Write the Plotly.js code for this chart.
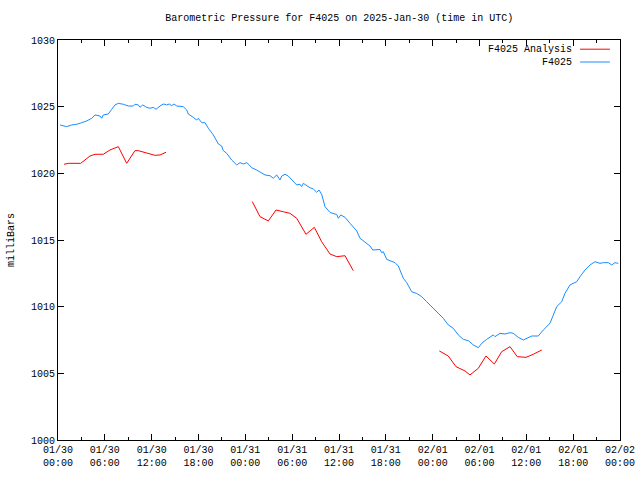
<!DOCTYPE html>
<html>
<head>
<meta charset="utf-8">
<script src="https://cdn.plot.ly/plotly-3.0.1.min.js"></script>
<style>html,body{margin:0;padding:0;background:#fff;}#chart{width:640px;height:480px;}</style>
</head>
<body>
<div id="chart"></div>
<script>
// Hours since 2025-01-30 00:00 UTC and pressure (mb)
const stationHours = [0.26,1.11,1.76,2.40,3.04,3.68,4.32,4.74,5.38,5.60,5.80,6.44,6.88,7.30,7.73,8.37,9.01,9.65,9.86,10.29,10.51,10.85,11.36,11.79,12.21,12.56,13.07,13.49,13.93,14.26,14.57,14.86,15.21,16.05,16.49,16.69,17.33,17.77,17.97,18.41,18.83,19.26,19.90,20.54,20.97,21.18,21.61,22.25,22.89,23.32,23.74,24.18,24.51,24.82,25.46,25.88,26.52,27.16,27.58,28.02,28.44,28.66,29.08,29.50,29.94,30.58,31.00,31.22,31.43,31.86,32.28,32.71,33.14,33.44,33.78,34.21,34.85,35.71,35.92,36.23,36.77,37.41,38.27,38.69,39.55,39.97,40.32,40.83,41.25,41.47,41.68,42.11,42.75,43.17,43.60,43.81,44.24,44.67,45.10,45.31,45.96,46.60,47.24,48.08,48.72,49.36,50.00,50.64,51.28,51.92,52.57,53.21,53.85,54.28,54.92,55.77,55.99,56.63,57.27,57.91,58.33,58.97,59.61,60.05,60.69,61.53,62.17,63.03,63.46,63.89,64.53,64.95,65.59,66.45,66.88,67.52,68.16,68.80,69.44,69.86,70.50,70.94,71.36,71.78];
const stationValues = [1023.63,1023.50,1023.63,1023.68,1023.80,1023.93,1024.13,1024.38,1024.30,1024.13,1024.38,1024.45,1024.80,1025.13,1025.25,1025.18,1025.05,1025.05,1025.18,1025.13,1024.95,1025.13,1024.95,1024.88,1024.95,1024.80,1025.05,1025.20,1025.13,1025.20,1025.07,1025.20,1025.05,1025.00,1024.75,1024.45,1024.20,1024.00,1024.13,1023.80,1023.80,1023.38,1022.88,1022.20,1022.05,1021.70,1021.50,1021.00,1020.63,1020.80,1020.70,1020.80,1020.63,1020.42,1020.25,1020.12,1019.88,1019.82,1019.63,1019.88,1019.50,1019.80,1019.93,1019.80,1019.50,1019.13,1019.18,1019.00,1019.25,1019.07,1018.92,1018.83,1018.58,1018.75,1018.43,1017.50,1017.06,1016.91,1016.63,1016.88,1016.70,1016.25,1015.68,1015.13,1014.78,1014.55,1014.25,1014.30,1014.29,1014.05,1014.12,1013.55,1013.43,1013.30,1013.05,1012.75,1012.13,1011.81,1011.40,1011.12,1010.99,1010.75,1010.37,1009.88,1009.50,1009.13,1008.63,1008.38,1007.88,1007.55,1007.45,1007.13,1006.92,1007.25,1007.55,1007.88,1007.75,1008.00,1007.95,1008.05,1008.00,1007.70,1007.50,1007.63,1007.80,1007.80,1008.25,1008.75,1009.38,1010.00,1010.37,1011.00,1011.63,1011.87,1012.25,1012.75,1013.13,1013.37,1013.25,1013.30,1013.30,1013.13,1013.30,1013.25];

const analysisHours = [0.77,1.32,2.91,3.46,4.10,4.74,5.80,6.66,7.73,8.80,9.86,10.29,11.36,12.43,13.07,13.84,null,24.89,25.88,26.94,27.93,28.86,29.72,30.58,31.77,32.84,33.78,34.85,35.71,36.77,37.83,null,48.85,50.00,50.99,52.14,52.78,53.85,54.83,55.90,56.84,57.91,58.84,59.96,60.89,61.97];
const analysisValues = [1020.68,1020.75,1020.75,1021.00,1021.30,1021.43,1021.43,1021.75,1022.00,1020.75,1021.70,1021.70,1021.50,1021.35,1021.38,1021.58,null,1017.88,1016.75,1016.43,1017.25,1017.12,1017.00,1016.63,1015.43,1015.95,1014.87,1013.95,1013.75,1013.82,1012.70,null,1006.68,1006.30,1005.50,1005.18,1004.88,1005.38,1006.30,1005.70,1006.62,1007.00,1006.25,1006.20,1006.43,1006.75];

const seriesNames = ['F4025 Analysis', 'F4025'];
const titleText = 'Barometric Pressure for F4025 on 2025-Jan-30 (time in UTC)';
const yTitle = 'milliBars';

const base = Date.UTC(2025, 0, 30);
function toDate(h) {
  if (h === null) return null;
  return new Date(base + h * 3600000).toISOString().slice(0, 19).replace('T', ' ');
}

const font = 'Liberation Mono, DejaVu Sans Mono, monospace';
const red = '#ff0000';
const blue = '#1a8cff';

const traces = [
  {x: analysisHours.map(toDate), y: analysisValues, type: 'scatter', mode: 'lines',
   name: seriesNames[0], line: {color: red, width: 1}, connectgaps: false},
  {x: stationHours.map(toDate), y: stationValues, type: 'scatter', mode: 'lines',
   name: seriesNames[1], line: {color: blue, width: 1}}
];

const layout = {
  width: 640, height: 480,
  margin: {l: 58, r: 20, t: 40, b: 40, pad: 0},
  paper_bgcolor: '#fff', plot_bgcolor: '#fff',
  showlegend: false,
  font: {family: font, size: 10, color: '#000'},
  title: {text: titleText, font: {family: font, size: 10, color: '#000'},
          x: 0.53, xanchor: 'center', y: 0.963, yanchor: 'middle'},
  xaxis: {
    type: 'date',
    range: ['2025-01-30 00:00', '2025-02-02 00:00'],
    tick0: '2025-01-30 00:00', dtick: 6 * 3600000,
    tickformat: '%m/%d<br>%H:%M',
    ticks: 'inside', ticklen: 6, tickcolor: '#000', tickwidth: 1,
    minor: {ticks: 'inside', dtick: 3 * 3600000, ticklen: 3, tickcolor: '#000', showgrid: false},
    showline: true, linecolor: '#000', linewidth: 1, mirror: 'allticks',
    showgrid: false, zeroline: false,
    tickfont: {family: font, size: 10, color: '#000'},
    automargin: false
  },
  yaxis: {
    range: [1000, 1030], dtick: 5, tick0: 1000,
    ticks: 'inside', ticklen: 6, tickcolor: '#000', tickwidth: 1,
    showline: true, linecolor: '#000', linewidth: 1, mirror: 'allticks',
    showgrid: false, zeroline: false,
    tickfont: {family: font, size: 10, color: '#000'},
    title: {text: yTitle, font: {family: font, size: 10, color: '#000'}, standoff: 14},
    automargin: false
  },
  annotations: [
    {xref: 'paper', yref: 'paper', x: 0.919, y: 0.977, xanchor: 'right', yanchor: 'middle',
     text: seriesNames[0], showarrow: false, font: {family: font, size: 10, color: '#000'}},
    {xref: 'paper', yref: 'paper', x: 0.919, y: 0.945, xanchor: 'right', yanchor: 'middle',
     text: seriesNames[1], showarrow: false, font: {family: font, size: 10, color: '#000'}}
  ],
  shapes: [
    {type: 'line', xref: 'paper', yref: 'paper', x0: 0.929, x1: 0.982, y0: 0.977, y1: 0.977,
     line: {color: red, width: 1}},
    {type: 'line', xref: 'paper', yref: 'paper', x0: 0.929, x1: 0.982, y0: 0.945, y1: 0.945,
     line: {color: blue, width: 1}}
  ]
};

Plotly.newPlot('chart', traces, layout, {displayModeBar: false, staticPlot: true});
</script>
</body>
</html>
